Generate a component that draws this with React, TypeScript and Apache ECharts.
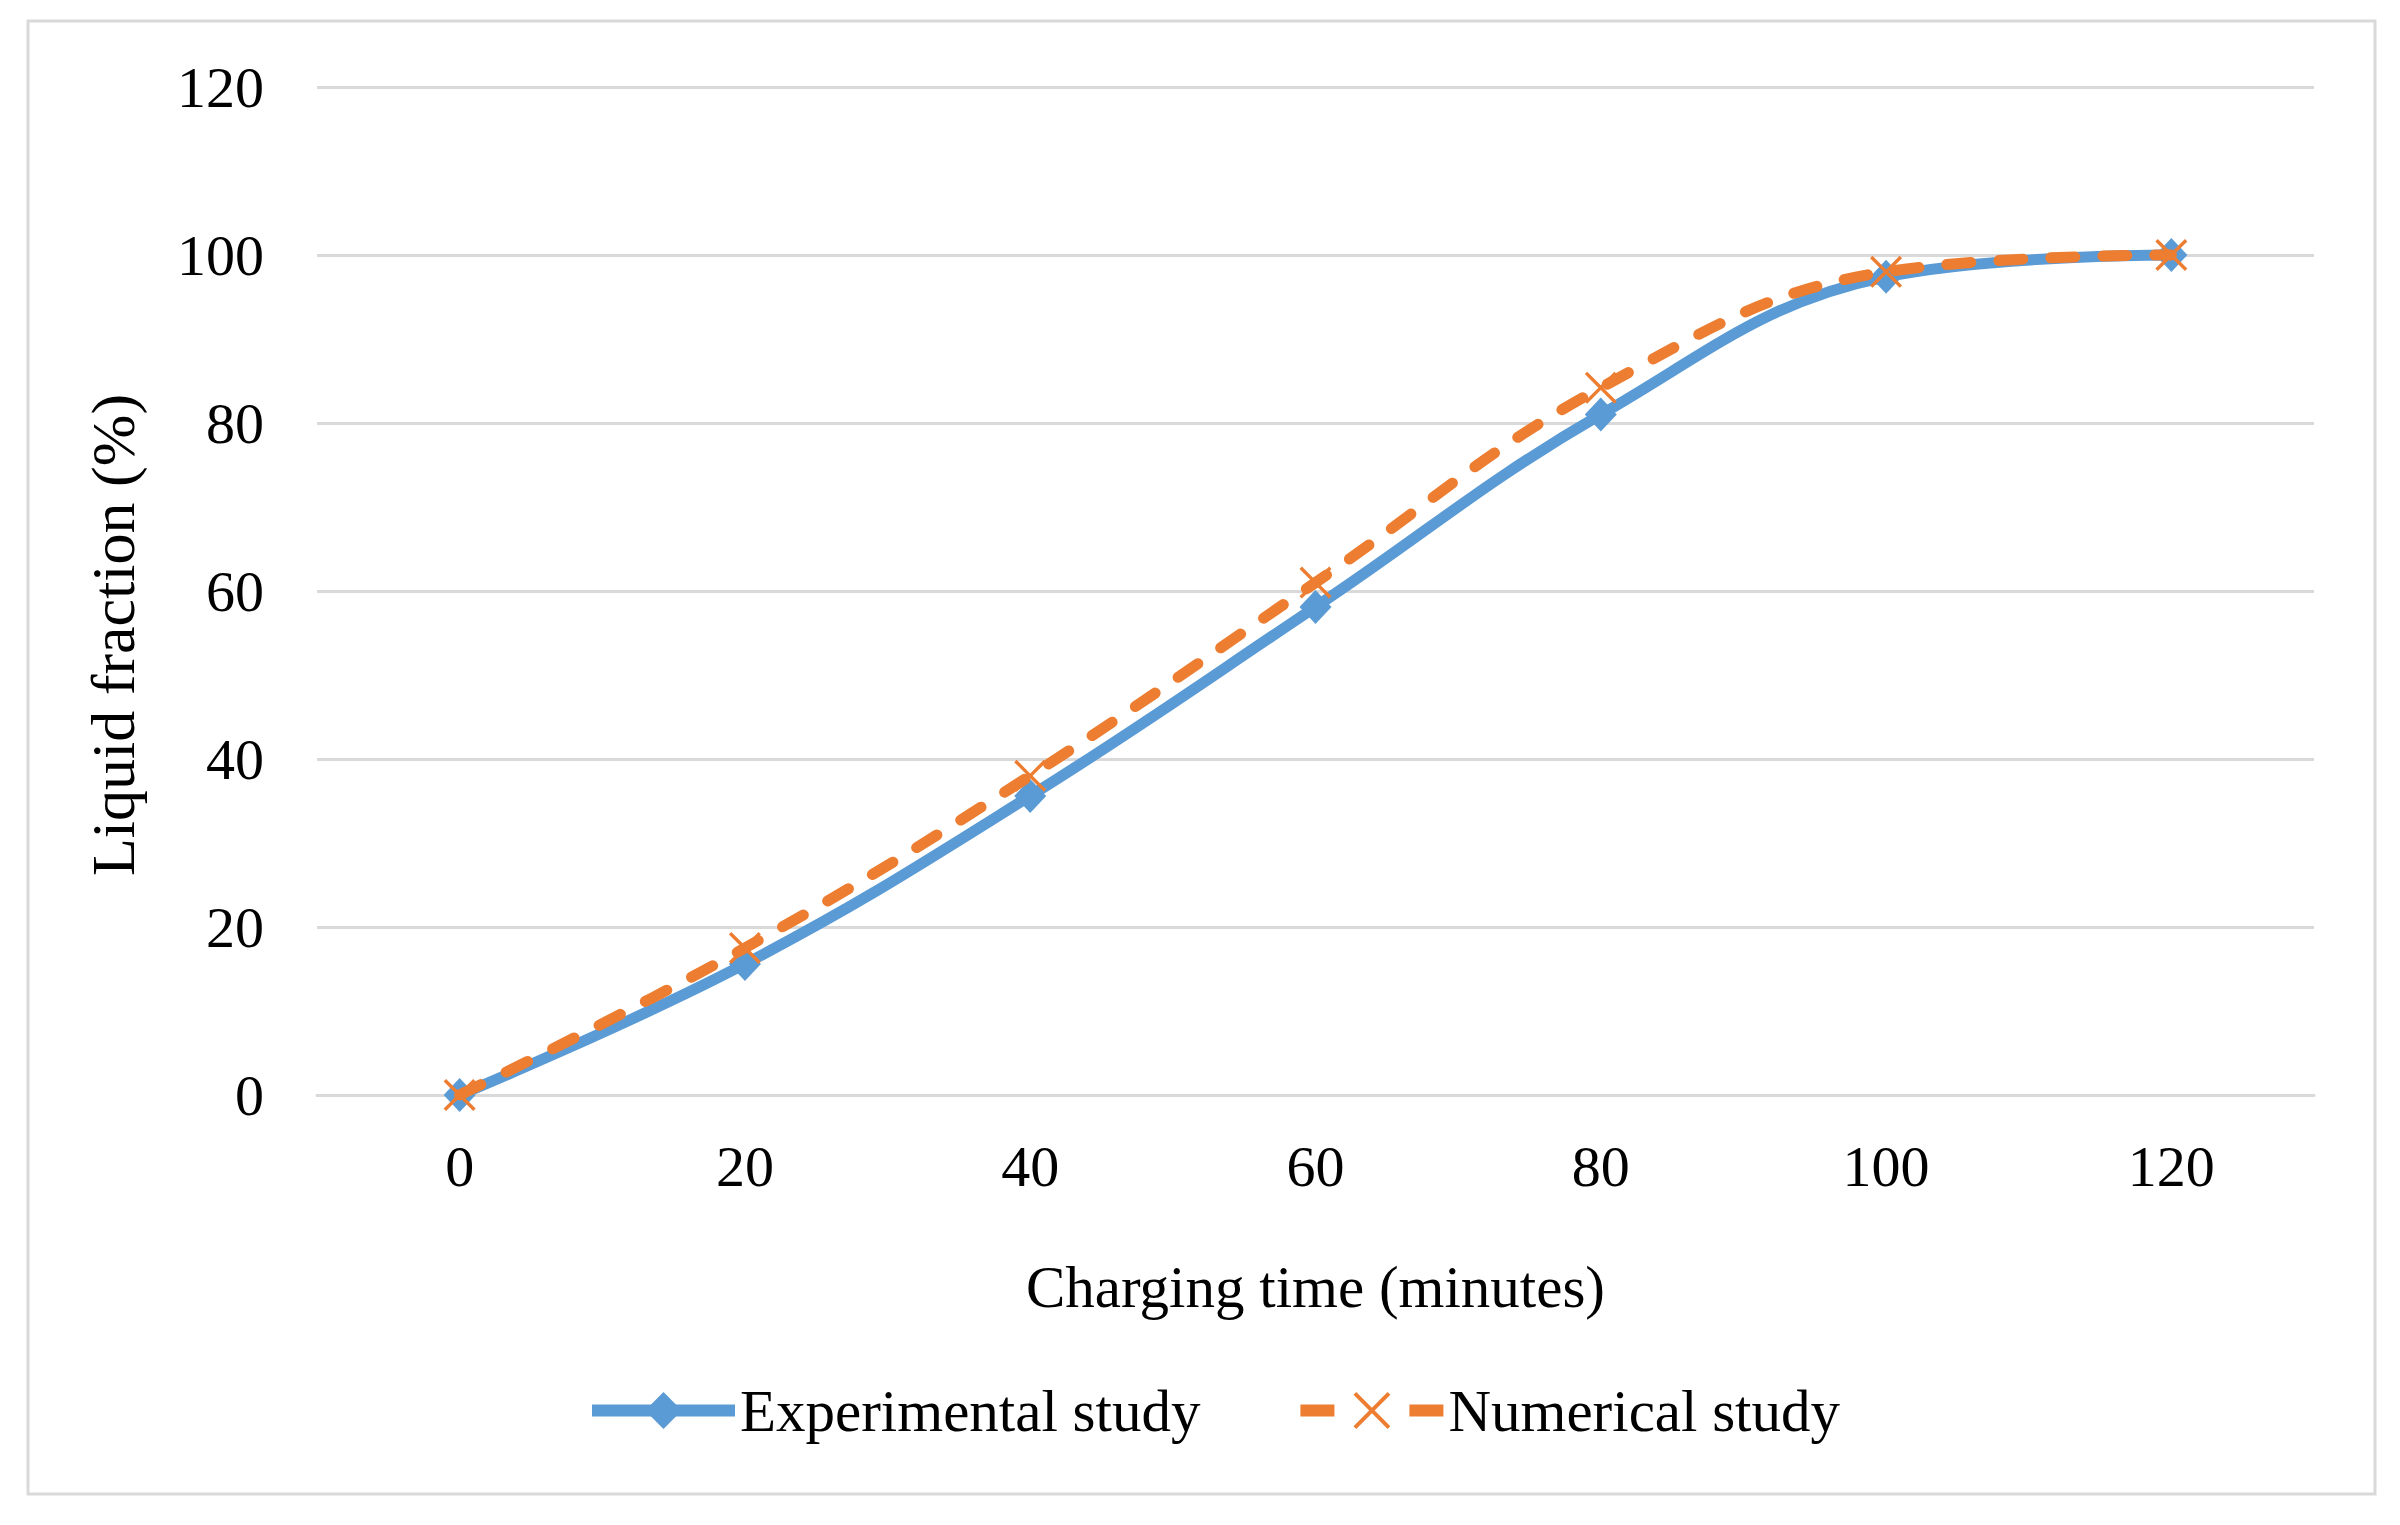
import React, { useEffect, useRef } from "react";
import * as echarts from "echarts";

const categories = ["0", "20", "40", "60", "80", "100", "120"];
const experimental = [0, 15.6, 35.6, 58.1, 81, 97.4, 100];
const numerical = [0, 17.5, 38, 61, 84.2, 98, 100];
const yTicks = { min: 0, max: 120, interval: 20 };

const FONT = "'Liberation Serif', 'Times New Roman', serif";
const BLUE = "#5B9BD5";
const ORANGE = "#ED7D31";
const GRID = "#d9d9d9";
const XSYMBOL =
  "path://M0,1.5 L1.5,0 L10,8.5 L18.5,0 L20,1.5 L11.5,10 L20,18.5 L18.5,20 L10,11.5 L1.5,20 L0,18.5 L8.5,10 Z";

export default function App() {
  const ref = useRef<HTMLDivElement>(null);
  useEffect(() => {
    if (!ref.current) return;
    const chart = echarts.init(ref.current, null, { renderer: "svg" });
    chart.setOption({
      animation: false,
      backgroundColor: "#ffffff",
      textStyle: { fontFamily: FONT },
      graphic: [
        {
          type: "rect",
          shape: { x: 28, y: 21, width: 2347, height: 1473 },
          style: { fill: "none", stroke: GRID, lineWidth: 3 },
          silent: true,
        },
      ],
      grid: { left: 317, right: 86, top: 87, bottom: 430, containLabel: false },
      legend: {
        left: 581,
        top: 1376,
        itemWidth: 143,
        itemHeight: 46,
        itemGap: 94,
        textStyle: { fontFamily: FONT, fontSize: 59, color: "#000" },
        data: [
          {
            name: "Experimental study",
            lineStyle: { width: 12, cap: "butt" },
          },
          {
            name: "Numerical study",
            lineStyle: { width: 12, type: [34, 75], cap: "butt" },
          },
        ],
      },
      xAxis: {
        type: "category",
        data: categories,
        boundaryGap: true,
        name: "Charging time (minutes)",
        nameLocation: "middle",
        nameGap: 162,
        nameTextStyle: { fontFamily: FONT, fontSize: 59, color: "#000" },
        axisLine: { show: true, lineStyle: { color: GRID, width: 3 } },
        axisTick: { show: false },
        axisLabel: { fontFamily: FONT, fontSize: 58, color: "#000", margin: 42 },
        splitLine: { show: false },
      },
      yAxis: {
        type: "value",
        min: yTicks.min,
        max: yTicks.max,
        interval: yTicks.interval,
        name: "Liquid fraction (%)",
        nameLocation: "middle",
        nameRotate: 90,
        nameGap: 173,
        nameTextStyle: { fontFamily: FONT, fontSize: 62, color: "#000", padding: [0, 88, 0, 0] },
        axisLine: { show: false },
        axisTick: { show: false },
        axisLabel: { fontFamily: FONT, fontSize: 58, color: "#000", margin: 53 },
        splitLine: { show: true, lineStyle: { color: GRID, width: 3 } },
      },
      series: [
        {
          name: "Experimental study",
          type: "line",
          data: experimental,
          smooth: 0.4,
          symbol: "diamond",
          symbolSize: [32, 34],
          showAllSymbol: true,
          itemStyle: { color: BLUE },
          lineStyle: { color: BLUE, width: 11, cap: "round" },
          z: 2,
        },
        {
          name: "Numerical study",
          type: "line",
          data: numerical,
          smooth: 0.4,
          symbol: XSYMBOL,
          symbolSize: 32,
          showAllSymbol: true,
          itemStyle: { color: ORANGE },
          lineStyle: { color: ORANGE, width: 11, type: [24, 28], cap: "round" },
          z: 3,
        },
      ],
    });
    return () => chart.dispose();
  }, []);
  return (
    <div
      ref={ref}
      style={{ position: "absolute", left: 0, top: 0, width: 2400, height: 1525, background: "#fff" }}
    />
  );
}
